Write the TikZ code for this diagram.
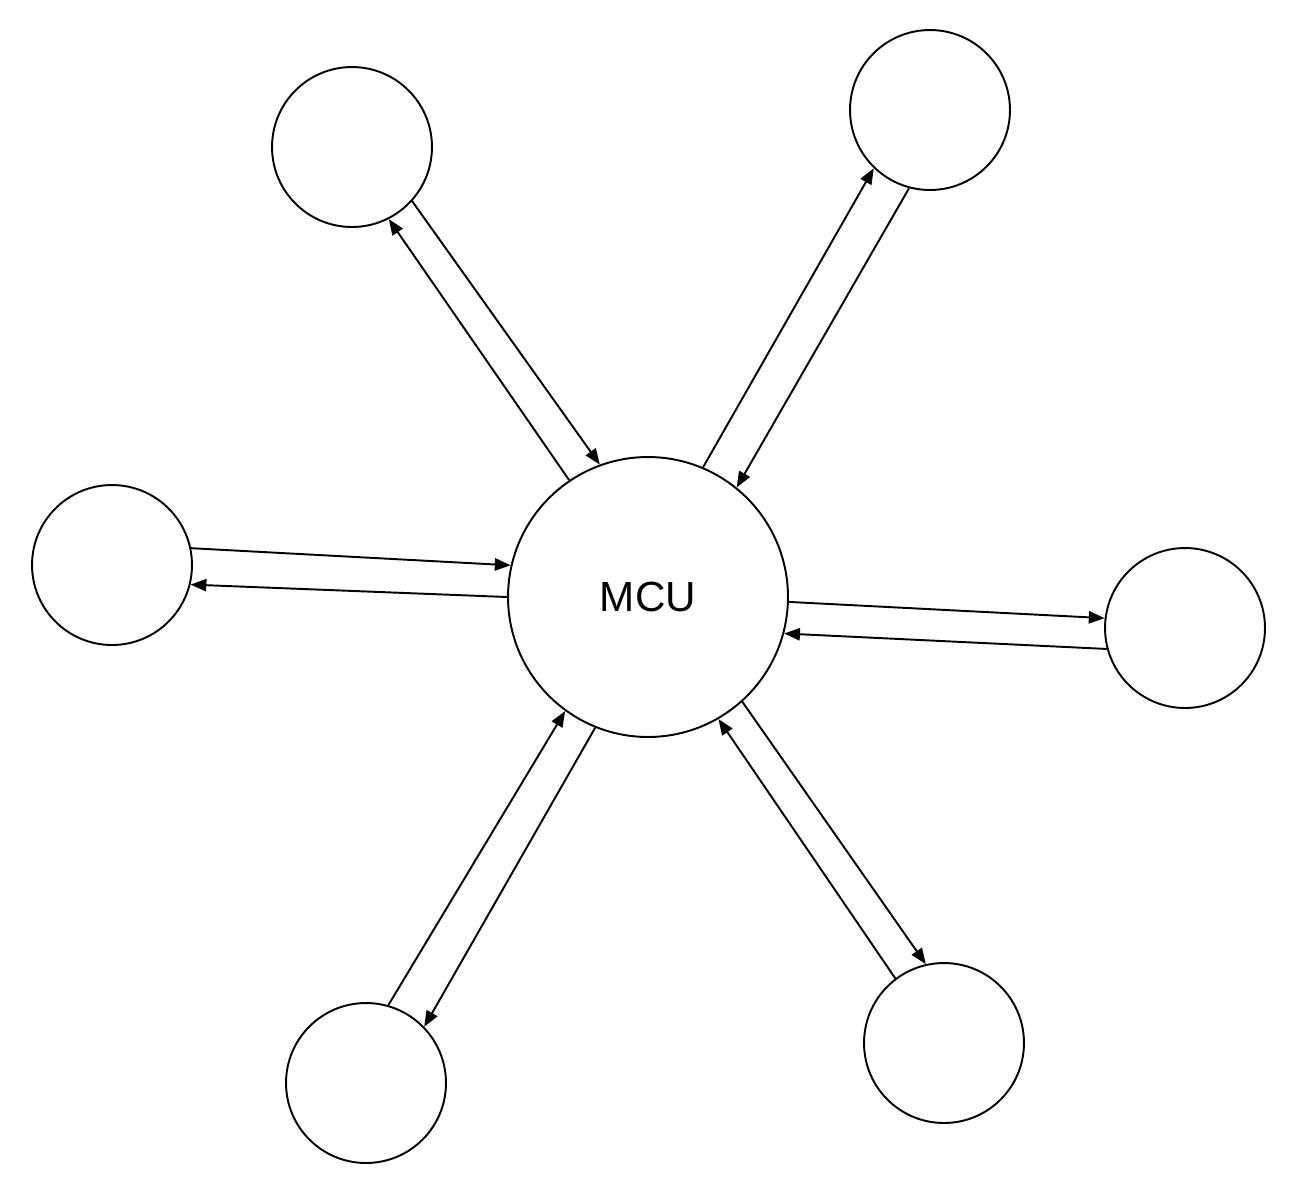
\documentclass[tikz,border=0pt]{standalone}
\usepackage{fontspec}
\setmainfont{Liberation Sans}
\usetikzlibrary{arrows.meta}
\begin{document}
\begin{tikzpicture}[x=0.02cm,y=-0.02cm,
  unit/.style={circle,draw,line width=1.1pt,inner sep=0pt},
  link/.style={line width=1.1pt,-{Triangle[length=9pt,width=7pt]}}]
\useasboundingbox (0,0) rectangle (1298,1198);
\node[unit,minimum size=5.6cm,font=\fontsize{24}{28}\selectfont] (mcu) at (648,597) {MCU};
\foreach \n/\x/\y in {tl/352/147, tr/930/110, l/112/565, r/1185/628, bl/366/1083, br/944/1043} {
\node[unit,minimum size=3.2cm] (\n) at (\x,\y) {};
}

\draw[link] (mcu.124) -- (tl.-63);
\draw[link] (tl.-42) -- (mcu.110);
\draw[link] (mcu.67) -- (tr.226);
\draw[link] (tr.255) -- (mcu.51);
\draw[link] (l.12) -- (mcu.167);
\draw[link] (mcu.180) -- (l.-14);
\draw[link] (mcu.-2) -- (r.173);
\draw[link] (r.195) -- (mcu.-15);
\draw[link] (bl.74) -- (mcu.234);
\draw[link] (mcu.248) -- (bl.44);
\draw[link] (mcu.-48) -- (br.103);
\draw[link] (br.127) -- (mcu.-60);
\end{tikzpicture}
\end{document}
